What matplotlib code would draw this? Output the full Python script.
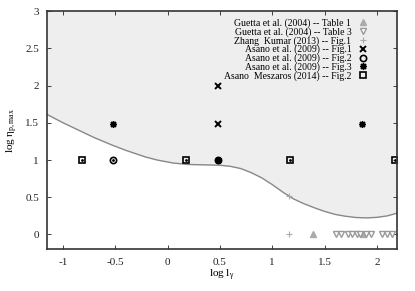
import numpy as np
import matplotlib
matplotlib.use("Agg")
import matplotlib.pyplot as plt

plt.rcParams["font.family"] = ["Liberation Serif", "DejaVu Serif"]
plt.rcParams["mathtext.fontset"] = "stix"

# boundary curve
curve_x = [-1.15, -1.0, -0.85, -0.7, -0.53, -0.4, -0.21, -0.1, 0.05, 0.2,
           0.35, 0.5, 0.6, 0.7, 0.8, 0.9, 1.0, 1.1, 1.2, 1.3, 1.4, 1.5,
           1.6, 1.7, 1.8, 1.9, 2.0, 2.1, 2.19]
curve_y = [1.61, 1.50, 1.40, 1.30, 1.20, 1.13, 1.04, 1.0, 0.96, 0.94,
           0.935, 0.93, 0.915, 0.885, 0.83, 0.76, 0.67, 0.57, 0.48, 0.415,
           0.36, 0.31, 0.27, 0.245, 0.228, 0.223, 0.23, 0.25, 0.285]

# data sets
guetta1_x = [1.39, 1.87]
guetta1_y = [0.0, 0.0]
guetta3_x = [1.61, 1.66, 1.72, 1.76, 1.81, 1.84, 1.90, 1.94, 2.05, 2.10, 2.14]
guetta3_y = [0.0] * 11
zhang_x = [1.16, 1.16]
zhang_y = [0.0, 0.52]
asano1_x = [0.48, 0.48]
asano1_y = [2.0, 1.48]
asano2_x = [-0.52, 0.48]
asano2_y = [1.0, 1.0]
asano3_x = [-0.52, 1.86, 0.48]
asano3_y = [1.48, 1.48, 1.0]
am_x = [-0.82, 0.18, 1.17, 2.17]
am_y = [1.0, 1.0, 1.0, 1.0]

fig = plt.figure(figsize=(4.15, 2.91), dpi=100)
ax = fig.add_axes([0.114, 0.143, 0.842, 0.819])

ax.fill_between(curve_x, curve_y, 3, color="#eeeeee", lw=0)
ax.plot(curve_x, curve_y, color="#888888", lw=1.0)

ax.plot(guetta1_x, guetta1_y, ls="none", marker="^", ms=4.5, color="#aaaaaa",
        label="Guetta et al. (2004) -- Table 1")
ax.plot(guetta3_x, guetta3_y, ls="none", marker="v", ms=4.5, mfc="white",
        mec="#999999", mew=1.0, label="Guetta et al. (2004) -- Table 3")
ax.plot(zhang_x, zhang_y, ls="none", marker="+", ms=5, color="#aaaaaa",
        mew=0.8, label="Zhang  Kumar (2013) -- Fig.1")
ax.plot(asano1_x, asano1_y, ls="none", marker="x", ms=4, color="black",
        mew=1.4, label="Asano et al. (2009) -- Fig.1")
ax.plot(asano2_x, asano2_y, ls="none", marker="o", ms=4.5, mfc="none",
        mec="black", mew=1.2, label="Asano et al. (2009) -- Fig.2")
ax.plot(asano3_x, asano3_y, ls="none", marker=(8, 2, 0), ms=5, color="black",
        mew=1.0, label="Asano et al. (2009) -- Fig.3")
ax.plot(am_x, am_y, ls="none", marker="s", ms=4.5, mfc="none", mec="black",
        mew=1.2, label="Asano  Meszaros (2014) -- Fig.2")
# dots inside circles and squares
ax.plot(asano2_x + am_x, asano2_y + am_y, ls="none", marker=".", ms=2,
        color="black")

ax.set_xlim(-1.15, 2.19)
ax.set_ylim(-0.2, 3)
ax.set_xticks([-1, -0.5, 0, 0.5, 1, 1.5, 2])
ax.set_xticklabels(["-1", "-0.5", "0", "0.5", "1", "1.5", "2"])
ax.set_yticks([0, 0.5, 1, 1.5, 2, 2.5, 3])
ax.set_yticklabels(["0", "0.5", "1", "1.5", "2", "2.5", "3"])
ax.tick_params(direction="in", top=True, right=True, length=3, width=0.6,
               labelsize=8, colors="#222222", pad=6)
for s in ax.spines.values():
    s.set_color("#333333")
    s.set_linewidth(1.2)

ax.set_xlabel(r"log $\mathregular{l_\gamma}$", fontsize=8, labelpad=1)
ax.set_ylabel(r"log $\mathregular{\eta_{p,max}}$", fontsize=8, labelpad=4)

leg = ax.legend(loc="upper right", bbox_to_anchor=(0.938, 1.0), frameon=False,
                markerfirst=False, fontsize=7, handlelength=1.0,
                handletextpad=0.7, labelspacing=-0.08, borderaxespad=0.35)

fig.savefig("out.png", dpi=100)
